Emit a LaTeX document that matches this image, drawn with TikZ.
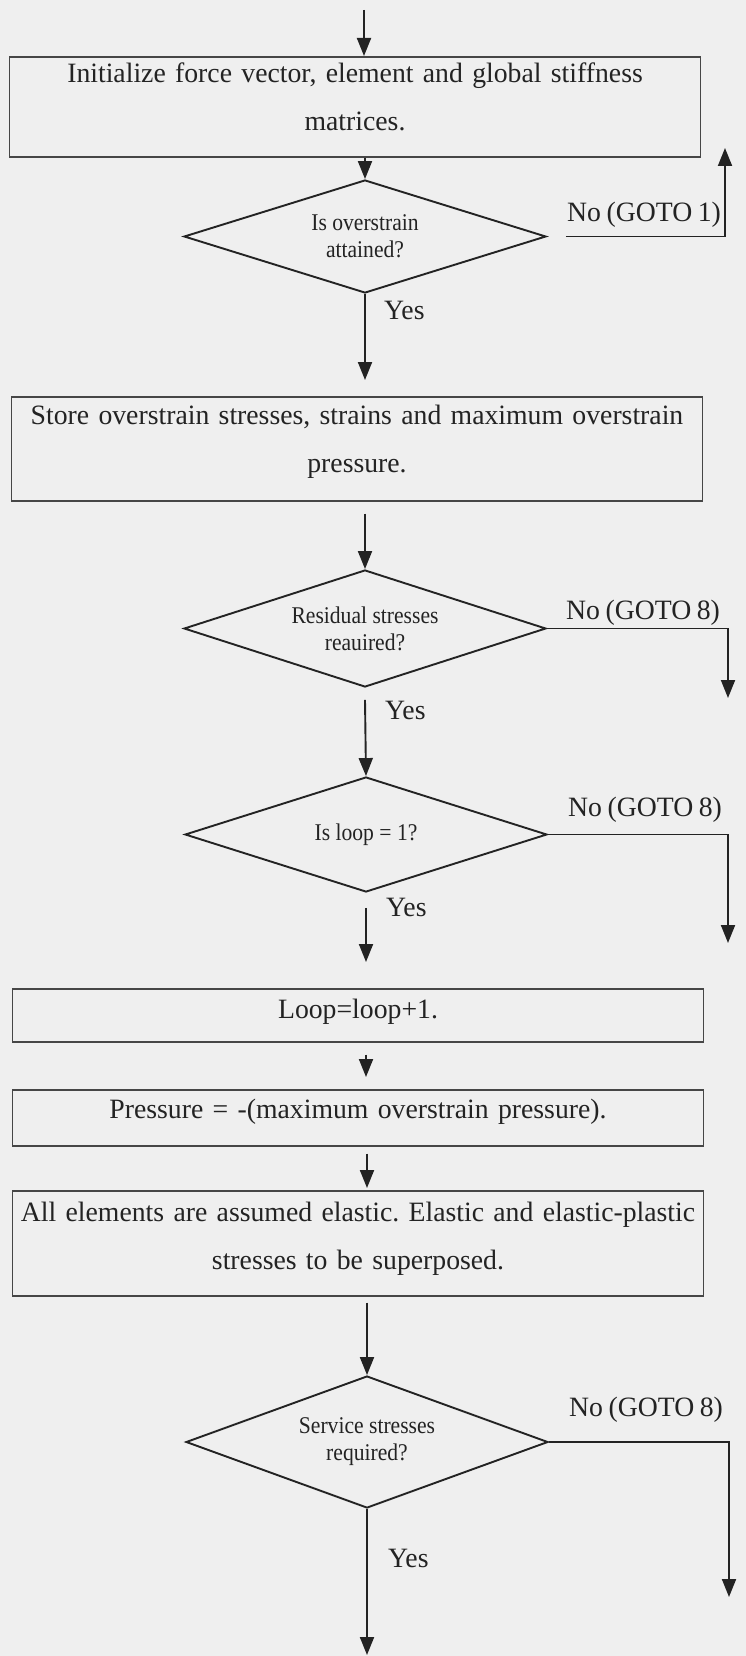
\documentclass[tikz,border=0pt]{standalone}
\usepackage{fontspec}
\setmainfont{Liberation Serif}
\newfontfamily\mainf{Liberation Serif}[FakeStretch=0.99,WordSpace=0.8]
\newfontfamily\smallf{Liberation Serif}[FakeStretch=0.9]
\usetikzlibrary{arrows.meta,shapes.geometric}
\frenchspacing
\definecolor{bg}{RGB}{239,239,239}
\definecolor{ink}{RGB}{35,35,35}
\definecolor{boxline}{RGB}{70,70,70}
\tikzset{
  box/.style={draw=boxline, line width=1.7pt, inner sep=0pt, text width=691pt,
    align=center, anchor=north, text=ink, font=\mainf\frenchspacing\fontsize{28}{48}\selectfont},
  decision/.style={draw=ink, line width=1.9pt, shape=diamond, inner sep=0pt,
    shape aspect=3.2, minimum width=362pt, align=center, text=ink,
    font=\smallf\fontsize{24}{27}\selectfont},
  arr/.style={draw=ink, line width=1.9pt, -{Triangle[length=18pt,width=14pt]}},
  lbl/.style={text=ink, inner sep=0pt, font=\mainf\fontsize{28}{32}\selectfont},
}
\begin{document}
\begin{tikzpicture}[x=1pt,y=-1pt]
\path[use as bounding box, fill=bg] (0,0) rectangle (746,1656);

% boxes
\node[box, text height=26pt, text depth=74pt] (b1) at (355,56)
  {Initialize force vector, element and global stiffness\\matrices.};
\node[box, text height=28pt, text depth=76pt] (b2) at (357,396)
  {Store overstrain stresses, strains and maximum overstrain\\pressure.};
\node[box, text height=30pt, text depth=23pt] (b3) at (358,988)
  {Loop=loop+1.};
\node[box, text height=29pt, text depth=27pt] (b4) at (358,1089)
  {Pressure = -(maximum overstrain pressure).};
\node[box, text height=31pt, text depth=74pt] (b5) at (358,1190)
  {All elements are assumed elastic. Elastic and elastic-plastic\\stresses to be superposed.};

% decisions
\node[decision, minimum height=113pt] (d1) at (365,236.5) {Is overstrain\\attained?};
\node[decision, minimum height=117pt] (d2) at (365,628.5) {Residual stresses\\reauired?};
\node[decision, minimum height=115pt] (d3) at (366,834.5) {Is loop = 1?};
\node[decision, minimum height=132pt] (d4) at (367,1442) {Service stresses\\required?};

% free ends
\coordinate (s0) at (364,10);
\coordinate (r1) at (725,148);
\coordinate (r2) at (728,698);
\coordinate (r3) at (728,943);
\coordinate (r4) at (729,1597);
\coordinate (e0) at (367,1655);

% labels
\node[lbl, anchor=base west] (n1) at (567,222) {No (GOTO 1)};
\node[lbl, anchor=base west] (n2) at (566,619) {No (GOTO 8)};
\node[lbl, anchor=base west] (n3) at (568,816) {No (GOTO 8)};
\node[lbl, anchor=base west] (n4) at (569,1416) {No (GOTO 8)};
\node[lbl, anchor=west] (y1) at (384,310) {Yes};
\node[lbl, anchor=west] (y2) at (385,710) {Yes};
\node[lbl, anchor=west] (y3) at (386,907) {Yes};
\node[lbl, anchor=west] (y4) at (388,1558) {Yes};

% connectors
\draw[arr] (s0) -- (s0 |- b1.north);
\draw[arr] (d1.north |- b1.south) -- (d1.north);
\draw[arr] ([xshift=19pt]d1.east) -| (r1);
\draw[arr] (d1.south) -- ([yshift=16pt]d1.south |- b2.north);
\draw[arr] ([yshift=-12pt]d2.north |- b2.south) -- (d2.north);
\draw[arr] (d2.east) -| (r2);
\draw[arr] ([yshift=-12pt]d2.south) -- (d3.north);
\draw[arr] (d3.east) -| (r3);
\draw[arr] ([yshift=-15pt]d3.south) -- ([yshift=26pt]d3.south |- b3.north);
\draw[arr] ([yshift=-12pt]d3.south |- b3.south) -- ([yshift=12pt]d3.south |- b4.north);
\draw[arr] ([yshift=-7pt]d4.north |- b4.south) -- ([yshift=2pt]d4.north |- b5.north);
\draw[arr] ([yshift=-6pt]d4.north |- b5.south) -- (d4.north);
\draw[arr] (d4.east) -| (r4);
\draw[arr] (d4.south) -- (e0);
\end{tikzpicture}
\end{document}
